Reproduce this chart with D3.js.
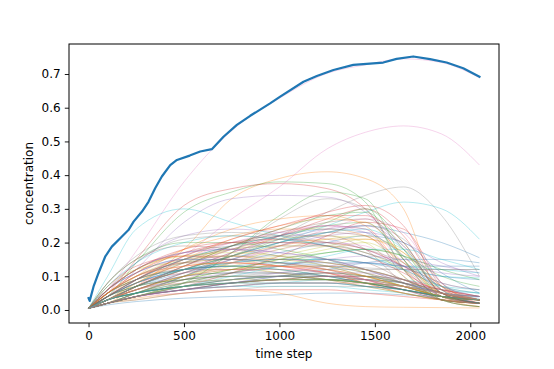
<!DOCTYPE html>
<html lang="en">
	<head>
		<meta charset="utf-8">
		<title>concentration over time</title>
		<script src="https://d3js.org/d3.v7.min.js"></script>
		<style type="text/css">
			body, html {
				margin: 0;
				background: #fff;
			}
			text {
				font-family: "DejaVu Sans", sans-serif;
				font-size: 12px;
				fill: #000;
			}
		</style>
	</head>
	<body>
		<svg width="554" height="369"></svg>
		<script type="text/javascript">
		var steps = [0, 100, 250, 500, 750, 1000, 1250, 1450, 1650, 1850, 2048];

		//thin curves, ten per block so the colour cycle lines up (C0..C9)
		var curves = [
			[0.005, 0.03, 0.07, 0.12, 0.16, 0.20, 0.23, 0.25, 0.23, 0.20, 0.155],
			[0.005, 0.02, 0.07, 0.18, 0.33, 0.39, 0.41, 0.39, 0.30, 0.04, 0.01],
			[0.005, 0.04, 0.14, 0.29, 0.35, 0.38, 0.375, 0.32, 0.12, 0.03, 0.01],
			[0.005, 0.05, 0.15, 0.31, 0.36, 0.375, 0.36, 0.30, 0.15, 0.03, 0.01],
			[0.005, 0.04, 0.12, 0.26, 0.33, 0.34, 0.335, 0.29, 0.18, 0.06, 0.02],
			[0.005, 0.03, 0.09, 0.16, 0.20, 0.22, 0.22, 0.18, 0.08, 0.03, 0.02],
			[0.005, 0.03, 0.07, 0.16, 0.27, 0.365, 0.478, 0.527, 0.546, 0.522, 0.43],
			[0.005, 0.02, 0.05, 0.10, 0.16, 0.22, 0.29, 0.34, 0.365, 0.28, 0.10],
			[0.005, 0.03, 0.08, 0.14, 0.18, 0.21, 0.22, 0.20, 0.10, 0.03, 0.02],
			[0.005, 0.02, 0.05, 0.10, 0.15, 0.20, 0.25, 0.29, 0.32, 0.30, 0.21],

			[0.005, 0.015, 0.025, 0.035, 0.04, 0.045, 0.05, 0.05, 0.045, 0.04, 0.035],
			[0.005, 0.02, 0.035, 0.05, 0.06, 0.05, 0.02, 0.01, 0.008, 0.007, 0.006],
			[0.005, 0.04, 0.09, 0.15, 0.19, 0.22, 0.25, 0.26, 0.15, 0.04, 0.02],
			[0.005, 0.03, 0.07, 0.12, 0.17, 0.22, 0.27, 0.30, 0.22, 0.06, 0.02],
			[0.005, 0.06, 0.14, 0.22, 0.24, 0.23, 0.21, 0.18, 0.13, 0.07, 0.04],
			[0.005, 0.02, 0.04, 0.08, 0.11, 0.13, 0.15, 0.14, 0.09, 0.05, 0.03],
			[0.005, 0.06, 0.175, 0.38, 0.532, 0.628, 0.702, 0.727, 0.745, 0.734, 0.689],
			[0.005, 0.03, 0.07, 0.12, 0.13, 0.13, 0.13, 0.125, 0.12, 0.12, 0.12],
			[0.005, 0.02, 0.05, 0.09, 0.12, 0.15, 0.18, 0.20, 0.14, 0.05, 0.02],
			[0.005, 0.10, 0.24, 0.30, 0.26, 0.22, 0.19, 0.16, 0.13, 0.10, 0.095],

			[0.005, 0.04, 0.07, 0.10, 0.11, 0.11, 0.10, 0.08, 0.06, 0.03, 0.02],
			[0.005, 0.04, 0.10, 0.18, 0.24, 0.27, 0.28, 0.25, 0.12, 0.03, 0.02],
			[0.005, 0.02, 0.04, 0.06, 0.08, 0.09, 0.10, 0.09, 0.07, 0.04, 0.03],
			[0.005, 0.07, 0.13, 0.16, 0.15, 0.13, 0.11, 0.08, 0.05, 0.03, 0.02],
			[0.005, 0.02, 0.05, 0.10, 0.15, 0.19, 0.22, 0.23, 0.20, 0.14, 0.10],
			[0.005, 0.05, 0.09, 0.12, 0.12, 0.11, 0.09, 0.07, 0.05, 0.03, 0.02],
			[0.005, 0.03, 0.06, 0.11, 0.15, 0.18, 0.20, 0.19, 0.12, 0.04, 0.02],
			[0.005, 0.06, 0.14, 0.21, 0.22, 0.21, 0.19, 0.16, 0.12, 0.07, 0.05],
			[0.005, 0.03, 0.05, 0.08, 0.09, 0.10, 0.10, 0.09, 0.07, 0.04, 0.03],
			[0.005, 0.02, 0.04, 0.06, 0.07, 0.08, 0.09, 0.09, 0.08, 0.06, 0.05],

			[0.005, 0.04, 0.08, 0.12, 0.14, 0.15, 0.15, 0.14, 0.12, 0.10, 0.09],
			[0.005, 0.02, 0.03, 0.05, 0.06, 0.06, 0.06, 0.05, 0.04, 0.03, 0.02],
			[0.005, 0.08, 0.15, 0.20, 0.20, 0.18, 0.15, 0.11, 0.07, 0.04, 0.03],
			[0.005, 0.02, 0.04, 0.07, 0.11, 0.16, 0.22, 0.26, 0.24, 0.08, 0.02],
			[0.005, 0.03, 0.06, 0.09, 0.10, 0.10, 0.09, 0.08, 0.06, 0.04, 0.03],
			[0.005, 0.03, 0.07, 0.13, 0.18, 0.22, 0.25, 0.24, 0.10, 0.03, 0.02],
			[0.005, 0.06, 0.11, 0.15, 0.16, 0.15, 0.14, 0.12, 0.09, 0.06, 0.04],
			[0.005, 0.02, 0.04, 0.06, 0.08, 0.09, 0.10, 0.10, 0.08, 0.05, 0.03],
			[0.005, 0.05, 0.10, 0.14, 0.15, 0.14, 0.12, 0.10, 0.07, 0.04, 0.03],
			[0.005, 0.03, 0.05, 0.07, 0.09, 0.10, 0.10, 0.10, 0.09, 0.07, 0.06],

			[0.005, 0.02, 0.04, 0.06, 0.08, 0.10, 0.12, 0.14, 0.15, 0.15, 0.14],
			[0.005, 0.06, 0.12, 0.16, 0.16, 0.14, 0.12, 0.09, 0.06, 0.04, 0.03],
			[0.005, 0.03, 0.07, 0.12, 0.16, 0.21, 0.26, 0.30, 0.20, 0.05, 0.02],
			[0.005, 0.04, 0.08, 0.11, 0.12, 0.12, 0.11, 0.09, 0.06, 0.03, 0.02],
			[0.005, 0.03, 0.06, 0.09, 0.11, 0.13, 0.15, 0.16, 0.15, 0.13, 0.11],
			[0.005, 0.08, 0.15, 0.19, 0.18, 0.16, 0.13, 0.10, 0.07, 0.04, 0.03],
			[0.005, 0.02, 0.05, 0.09, 0.14, 0.19, 0.24, 0.27, 0.23, 0.08, 0.03],
			[0.005, 0.03, 0.06, 0.10, 0.12, 0.13, 0.13, 0.12, 0.09, 0.05, 0.03],
			[0.005, 0.03, 0.06, 0.10, 0.13, 0.16, 0.19, 0.21, 0.18, 0.07, 0.03],
			[0.005, 0.02, 0.04, 0.06, 0.07, 0.07, 0.07, 0.06, 0.05, 0.03, 0.02],

			[0.005, 0.03, 0.07, 0.11, 0.14, 0.17, 0.20, 0.22, 0.20, 0.11, 0.05],
			[0.005, 0.02, 0.04, 0.06, 0.07, 0.08, 0.08, 0.08, 0.07, 0.05, 0.03],
			[0.005, 0.05, 0.09, 0.12, 0.13, 0.12, 0.10, 0.08, 0.06, 0.04, 0.03],
			[0.005, 0.03, 0.07, 0.13, 0.19, 0.24, 0.29, 0.31, 0.25, 0.07, 0.02],
			[0.005, 0.06, 0.11, 0.15, 0.15, 0.14, 0.12, 0.09, 0.06, 0.04, 0.03],
			[0.005, 0.02, 0.04, 0.07, 0.09, 0.10, 0.11, 0.10, 0.08, 0.05, 0.03],
			[0.005, 0.02, 0.04, 0.05, 0.06, 0.06, 0.06, 0.05, 0.04, 0.03, 0.02],
			[0.005, 0.03, 0.06, 0.11, 0.15, 0.19, 0.23, 0.25, 0.21, 0.08, 0.03],
			[0.005, 0.07, 0.12, 0.14, 0.13, 0.11, 0.09, 0.07, 0.05, 0.03, 0.02],
			[0.005, 0.03, 0.05, 0.08, 0.09, 0.10, 0.10, 0.09, 0.08, 0.05, 0.04],

			[0.005, 0.04, 0.08, 0.12, 0.13, 0.12, 0.10, 0.08, 0.06, 0.04, 0.03],
			[0.005, 0.03, 0.08, 0.15, 0.21, 0.25, 0.27, 0.26, 0.16, 0.04, 0.02],
			[0.005, 0.02, 0.04, 0.08, 0.11, 0.14, 0.17, 0.18, 0.16, 0.10, 0.07],
			[0.005, 0.03, 0.05, 0.07, 0.08, 0.09, 0.09, 0.09, 0.08, 0.06, 0.04],
			[0.005, 0.03, 0.07, 0.12, 0.17, 0.21, 0.24, 0.25, 0.19, 0.07, 0.03],
			[0.005, 0.03, 0.06, 0.10, 0.11, 0.11, 0.10, 0.09, 0.07, 0.04, 0.02],
			[0.005, 0.05, 0.10, 0.13, 0.14, 0.13, 0.12, 0.10, 0.08, 0.05, 0.04],
			[0.005, 0.06, 0.12, 0.17, 0.19, 0.20, 0.20, 0.18, 0.14, 0.07, 0.04],
			[0.005, 0.02, 0.05, 0.10, 0.14, 0.18, 0.21, 0.22, 0.17, 0.06, 0.03],
			[0.005, 0.04, 0.08, 0.12, 0.14, 0.15, 0.15, 0.14, 0.13, 0.12, 0.11],

			[0.005, 0.05, 0.09, 0.12, 0.13, 0.14, 0.14, 0.14, 0.13, 0.13, 0.13],
			[0.005, 0.05, 0.09, 0.13, 0.14, 0.13, 0.11, 0.08, 0.05, 0.03, 0.02],
			[0.005, 0.03, 0.07, 0.13, 0.19, 0.24, 0.28, 0.29, 0.18, 0.04, 0.02],
			[0.005, 0.03, 0.05, 0.07, 0.08, 0.09, 0.09, 0.08, 0.07, 0.05, 0.04],
			[0.005, 0.04, 0.09, 0.15, 0.18, 0.19, 0.19, 0.17, 0.13, 0.08, 0.06],
			[0.005, 0.03, 0.06, 0.11, 0.16, 0.20, 0.23, 0.22, 0.12, 0.04, 0.02],
			[0.005, 0.05, 0.10, 0.14, 0.14, 0.13, 0.11, 0.09, 0.06, 0.04, 0.03],
			[0.005, 0.03, 0.05, 0.08, 0.10, 0.11, 0.12, 0.12, 0.12, 0.12, 0.12],
			[0.005, 0.04, 0.09, 0.15, 0.18, 0.19, 0.19, 0.17, 0.12, 0.05, 0.03],
			[0.005, 0.02, 0.04, 0.07, 0.10, 0.13, 0.16, 0.18, 0.18, 0.15, 0.12],

			[0.005, 0.03, 0.05, 0.07, 0.08, 0.09, 0.09, 0.08, 0.07, 0.05, 0.03],
			[0.005, 0.05, 0.11, 0.18, 0.22, 0.24, 0.24, 0.22, 0.14, 0.05, 0.03],
			[0.005, 0.02, 0.05, 0.09, 0.12, 0.15, 0.17, 0.18, 0.16, 0.12, 0.09],
			[0.005, 0.05, 0.11, 0.17, 0.20, 0.21, 0.20, 0.18, 0.13, 0.06, 0.03],
			[0.005, 0.02, 0.04, 0.07, 0.09, 0.11, 0.13, 0.14, 0.13, 0.11, 0.10],
			[0.005, 0.04, 0.07, 0.09, 0.10, 0.10, 0.09, 0.08, 0.06, 0.04, 0.03],
			[0.005, 0.03, 0.07, 0.13, 0.18, 0.22, 0.25, 0.24, 0.14, 0.04, 0.02],
			[0.005, 0.02, 0.03, 0.05, 0.06, 0.07, 0.07, 0.07, 0.06, 0.04, 0.03],
			[0.005, 0.03, 0.06, 0.08, 0.09, 0.09, 0.09, 0.08, 0.07, 0.05, 0.04],
			[0.005, 0.07, 0.14, 0.20, 0.22, 0.21, 0.19, 0.16, 0.12, 0.07, 0.05],

			[0.005, 0.02, 0.04, 0.06, 0.07, 0.08, 0.08, 0.07, 0.06, 0.04, 0.02],
			[0.005, 0.03, 0.07, 0.12, 0.16, 0.19, 0.21, 0.21, 0.17, 0.07, 0.03],
			[0.005, 0.02, 0.04, 0.08, 0.17, 0.28, 0.35, 0.33, 0.15, 0.03, 0.01],
			[0.005, 0.02, 0.04, 0.06, 0.08, 0.09, 0.10, 0.10, 0.09, 0.06, 0.04],
			[0.005, 0.06, 0.12, 0.17, 0.18, 0.17, 0.15, 0.12, 0.09, 0.05, 0.03],
			[0.005, 0.03, 0.05, 0.07, 0.08, 0.08, 0.08, 0.07, 0.06, 0.04, 0.03],
			[0.005, 0.04, 0.09, 0.15, 0.20, 0.23, 0.25, 0.23, 0.13, 0.04, 0.02],
			[0.005, 0.02, 0.05, 0.10, 0.17, 0.27, 0.33, 0.30, 0.12, 0.03, 0.02],
			[0.005, 0.05, 0.10, 0.15, 0.16, 0.15, 0.13, 0.10, 0.07, 0.04, 0.02],
			[0.005, 0.03, 0.05, 0.07, 0.08, 0.09, 0.09, 0.08, 0.07, 0.05, 0.04],

			[0.005, 0.06, 0.11, 0.15, 0.15, 0.14, 0.13, 0.11, 0.08, 0.05, 0.04],
			[0.005, 0.03, 0.06, 0.10, 0.12, 0.13, 0.13, 0.11, 0.08, 0.04, 0.03],
			[0.005, 0.03, 0.05, 0.07, 0.09, 0.10, 0.11, 0.10, 0.08, 0.04, 0.02],
			[0.005, 0.04, 0.09, 0.16, 0.21, 0.25, 0.28, 0.28, 0.20, 0.05, 0.02],
			[0.005, 0.06, 0.12, 0.17, 0.18, 0.17, 0.15, 0.12, 0.08, 0.05, 0.03],
			[0.005, 0.05, 0.10, 0.14, 0.15, 0.15, 0.14, 0.12, 0.09, 0.05, 0.03],
			[0.005, 0.02, 0.04, 0.06, 0.07, 0.08, 0.08, 0.08, 0.07, 0.05, 0.04],
			[0.005, 0.08, 0.16, 0.22, 0.23, 0.22, 0.20, 0.17, 0.13, 0.08, 0.06],
			[0.005, 0.02, 0.04, 0.07, 0.08, 0.09, 0.09, 0.08, 0.07, 0.05, 0.03],
			[0.005, 0.03, 0.07, 0.12, 0.16, 0.20, 0.23, 0.24, 0.18, 0.06, 0.02],

			[0.005, 0.04, 0.09, 0.15, 0.19, 0.22, 0.24, 0.23, 0.16, 0.05, 0.02],
			[0.005, 0.05, 0.10, 0.13, 0.14, 0.13, 0.12, 0.10, 0.07, 0.04, 0.03],
			[0.005, 0.04, 0.07, 0.09, 0.10, 0.10, 0.09, 0.08, 0.06, 0.04, 0.03],
			[0.005, 0.06, 0.12, 0.18, 0.20, 0.20, 0.19, 0.16, 0.11, 0.05, 0.03],
			[0.005, 0.02, 0.04, 0.06, 0.08, 0.10, 0.11, 0.11, 0.09, 0.05, 0.03],
			[0.005, 0.04, 0.08, 0.14, 0.19, 0.23, 0.26, 0.27, 0.19, 0.05, 0.02],
			[0.005, 0.03, 0.06, 0.08, 0.09, 0.10, 0.10, 0.09, 0.07, 0.05, 0.03],
			[0.005, 0.04, 0.09, 0.14, 0.16, 0.16, 0.15, 0.12, 0.08, 0.04, 0.03],
			[0.005, 0.06, 0.12, 0.16, 0.17, 0.16, 0.14, 0.12, 0.09, 0.05, 0.03],
			[0.005, 0.03, 0.05, 0.07, 0.08, 0.08, 0.08, 0.07, 0.06, 0.04, 0.03]
		];

		//the bold curve, read at its own (uneven) time steps
		var boldSteps = [0, 6, 26, 52, 87, 122, 166, 209, 236, 280, 314, 349, 384, 428, 463, 530, 585, 646,
			707, 777, 847, 951, 1004, 1126, 1196, 1283, 1387, 1544, 1614, 1701, 1789, 1876, 1963, 2048];
		var boldValues = [0.035, 0.027, 0.069, 0.109, 0.158, 0.188, 0.213, 0.237, 0.262, 0.292, 0.321, 0.361, 0.396, 0.430, 0.445, 0.458, 0.470, 0.477,
			0.514, 0.549, 0.576, 0.613, 0.633, 0.677, 0.694, 0.712, 0.727, 0.734, 0.745, 0.752, 0.744, 0.734, 0.717, 0.692];

		var xTicks = [0, 500, 1000, 1500, 2000];
		var yTicks = [0.0, 0.1, 0.2, 0.3, 0.4, 0.5, 0.6, 0.7];

		var axLeft = 69, axRight = 499, axTop = 44, axBottom = 323;
		var svg = d3.select("svg");

		var x = d3.scaleLinear()
			.domain([-102.4, 2150.4])
			.range([axLeft, axRight]);
		var y = d3.scaleLinear()
			.domain([-0.0386, 0.789])
			.range([axBottom, axTop]);

		var color = d3.scaleOrdinal(d3.schemeCategory10);

		var thin = d3.line()
			.x(function(d, i) { return x(steps[i]); })
			.y(function(d) { return y(d); })
			.curve(d3.curveMonotoneX);

		var plot = svg.append("g");

		plot.selectAll("path.thin")
			.data(curves)
			.enter()
			.append("path")
			.attr("class", "thin")
			.attr("d", thin)
			.attr("fill", "none")
			.attr("stroke", function(d, i) { return color(i % 10); })
			.attr("stroke-width", 0.7)
			.attr("stroke-opacity", 0.45);

		var bold = d3.line()
			.x(function(d, i) { return x(boldSteps[i]); })
			.y(function(d) { return y(d); });

		plot.append("path")
			.datum(boldValues)
			.attr("d", bold)
			.attr("fill", "none")
			.attr("stroke", "#1f77b4")
			.attr("stroke-width", 2.2)
			.attr("stroke-linejoin", "round")
			.attr("stroke-linecap", "square");

		//axes
		var xAxis = d3.axisBottom(x)
			.tickValues(xTicks)
			.tickSize(4.2)
			.tickPadding(4.2)
			.tickFormat(d3.format("d"));
		var yAxis = d3.axisLeft(y)
			.tickValues(yTicks)
			.tickSize(4.2)
			.tickPadding(4.2)
			.tickFormat(d3.format(".1f"));

		svg.append("g")
			.attr("transform", "translate(0," + axBottom + ")")
			.call(xAxis);
		svg.append("g")
			.attr("transform", "translate(" + axLeft + ",0)")
			.call(yAxis);

		svg.selectAll(".domain").remove();
		svg.selectAll(".tick line").attr("stroke", "#000").attr("stroke-width", 0.9);
		svg.selectAll(".tick text")
			.attr("fill", "#000")
			.style("font-family", '"DejaVu Sans", sans-serif')
			.style("font-size", "12px");

		//frame
		svg.append("rect")
			.attr("x", axLeft)
			.attr("y", axTop)
			.attr("width", axRight - axLeft)
			.attr("height", axBottom - axTop)
			.attr("fill", "none")
			.attr("stroke", "#000")
			.attr("stroke-width", 1);

		svg.append("text")
			.attr("x", (axLeft + axRight) / 2)
			.attr("y", 358)
			.attr("text-anchor", "middle")
			.text("time step");

		svg.append("text")
			.attr("transform", "translate(33," + (axTop + axBottom) / 2 + ") rotate(-90)")
			.attr("text-anchor", "middle")
			.text("concentration");
		</script>
	</body>
</html>
